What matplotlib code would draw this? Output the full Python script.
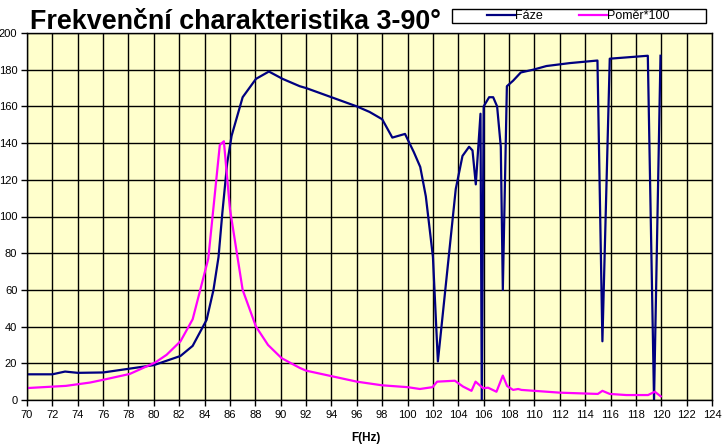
import matplotlib
matplotlib.use('Agg')
import matplotlib.pyplot as plt
from matplotlib.patches import Rectangle

plt.rcParams['font.family'] = ['Liberation Sans', 'DejaVu Sans']

# Fáze
f_faze = [70, 72, 73, 74, 76, 78, 80, 82.1, 83.06, 84.16, 84.7, 85.1, 85.4, 85.78,
          86.13, 87, 88.05, 89.07, 90.15, 91.5, 92, 94, 96, 97, 98, 98.8, 99.8, 100.5,
          101, 101.44, 102, 102.39, 103.2, 103.8, 104.33, 104.85, 105.12, 105.38, 105.75,
          105.85, 106, 106.43, 106.75, 107.06, 107.35, 107.51, 107.83, 108.32, 108.93,
          109.9, 110.95, 112.79, 114.97, 115.36, 115.94, 118.94, 119.43, 119.94]
faze = [14, 14, 15.5, 14.8, 15, 17, 19, 24, 29.5, 43.7, 60, 78, 102, 129,
        144, 165, 175, 179, 175, 171, 170, 165, 160, 157, 153, 143, 145, 135,
        127, 111, 78, 21, 75, 115, 133, 138, 136, 117.5, 156,
        0, 160, 165, 165, 160, 138, 60, 171, 174, 178.5,
        180, 182, 183.6, 185, 32, 186, 187.6, 0, 187.6]

# Poměr*100
f_pomer = [70, 73.07, 74.96, 76, 78.1, 80.1, 81, 82.1, 83.06, 84.29, 85.2, 85.52, 86,
           87, 88.05, 89, 90.07, 91.5, 92, 94, 96, 98, 100, 100.97, 101.97, 102.33,
           103.73, 104.38, 105.04, 105.36, 105.96, 106.35, 107.01, 107.51, 107.85,
           108.32, 108.72, 108.98, 112, 115, 115.36, 115.94, 117.25, 118.96, 119.49, 119.96]
pomer = [6.5, 7.7, 9.5, 11, 14.2, 20.4, 24.6, 32, 44, 77, 139, 141, 104,
         60, 40, 30, 22.8, 17.5, 16, 13, 10, 8, 7, 6, 7, 10,
         10.5, 7.3, 5, 10, 6.4, 6.7, 4.5, 13.3, 7.6,
         5.5, 6, 5.5, 4, 3.3, 5, 3.3, 2.7, 2.7, 4.5, 2]

W, H = 722, 446
fig = plt.figure(figsize=(W / 100, H / 100), dpi=100)
ax = fig.add_axes([27 / W, 1 - 400 / H, 685 / W, 367 / H])
ax.set_facecolor('#FFFFCC')

ax.plot(f_faze, faze, color='#000080', lw=1.6, label='Fáze')
ax.plot(f_pomer, pomer, color='#FF00FF', lw=1.6, label='Poměr*100')

ax.set_xlim(70, 124)
ax.set_ylim(0, 200)
ax.set_xticks(range(70, 125, 2))
ax.set_yticks(range(0, 201, 20))
ax.grid(True, color='black', lw=1)
ax.set_axisbelow(True)
for s in ax.spines.values():
    s.set_color('black')
    s.set_linewidth(1)
ax.tick_params(labelsize=8, length=4, width=1, direction='out', pad=3)

fig.text(366 / W, 1 - 438 / H, 'F(Hz)', fontsize=8.5, fontweight='bold',
         ha='center', va='center')
fig.text(30 / W, 1 - 29 / H, 'Frekvenční charakteristika 3-90°', fontsize=19.4,
         fontweight='bold', ha='left', va='baseline')

# ramecek legendy
fig.patches.append(Rectangle((452 / W, 1 - 23 / H), 254 / W, 14 / H, transform=fig.transFigure,
                             fc='white', ec='black', lw=1, zorder=-1))
leg = ax.legend(loc='center left', bbox_to_anchor=(487 / W, 1 - 16 / H),
                bbox_transform=fig.transFigure, ncol=2, fontsize=9, frameon=False,
                handlelength=2.2, columnspacing=2.9, borderpad=0, borderaxespad=0,
                handletextpad=0.05)

fig.savefig('out.png', dpi=100)
